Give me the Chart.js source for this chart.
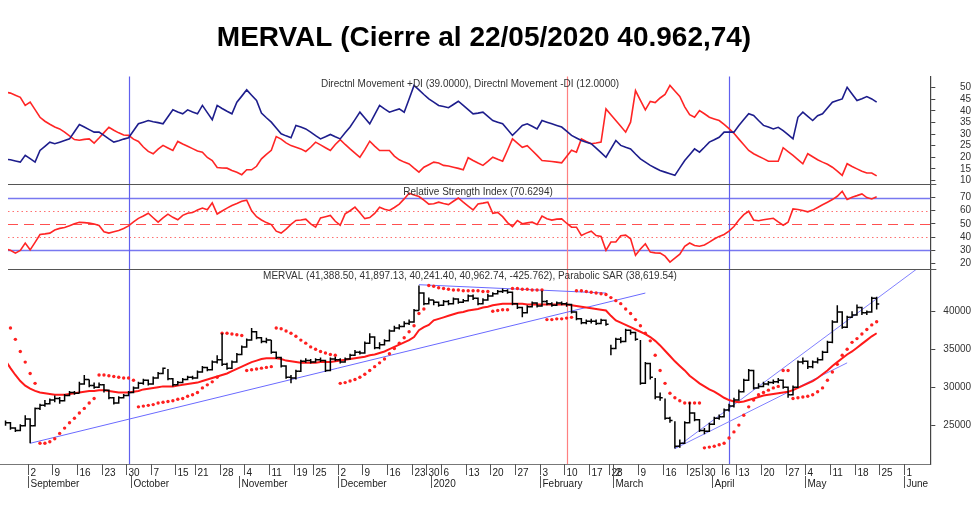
<!DOCTYPE html>
<html><head><meta charset="utf-8">
<script src="https://cdn.jsdelivr.net/npm/chart.js@4.4.1/dist/chart.umd.min.js"></script>
<style>html,body{margin:0;padding:0;background:#fff}#wrap{width:980px;height:505px}</style>
</head><body><div id="wrap"><canvas id="c"></canvas></div>
<script>
const titleText = 'MERVAL (Cierre al 22/05/2020 40.962,74)';
const diLabel = 'Directnl Movement +DI (39.0000), Directnl Movement -DI (12.0000)';
const rsiLabel = 'Relative Strength Index (70.6294)';
const priceLabel = 'MERVAL (41,388.50, 41,897.13, 40,241.40, 40,962.74, -425.762), Parabolic SAR (38,619.54)';
const monthNames = ['2020','February','March','April','May','June','July','August','September','October','November','December'];
const holidays = ['2019-10-14','2019-11-18','2019-12-24','2019-12-25','2019-12-31','2020-01-01','2020-02-21','2020-02-24','2020-02-25','2020-02-26','2020-02-27','2020-03-23','2020-03-24','2020-04-02','2020-04-09','2020-04-10','2020-05-01'];
const firstDay = '2019-08-26', lastDay = '2020-06-05';
const diTicks = [10,15,20,25,30,35,40,45,50];
const rsiTicks = [20,30,40,50,60,70];
const priceTicks = [25000,30000,35000,40000];

const cl = [25300,24600,24300,24900,25800,24900,27200,27600,27800,28300,28500,28200,28900,29300,29200,30400,31000,30200,30000,30300,29600,28600,27900,28600,28900,
29300,29900,30500,30900,30400,31200,31800,32500,31100,30300,30600,31000,31300,31200,32000,32600,32300,33300,33600,
33000,32500,33300,34300,35300,36200,37300,36500,36000,36200,34600,33900,32800,31300,31200,32100,33400,33500,33300,33600,33500,32200,33700,33600,
33300,33700,34200,34600,34500,35800,36600,35200,35600,36100,37400,37800,38000,38400,38600,40100,42400,41000,
41500,41200,40800,41300,41000,41600,41200,41400,42000,41700,41000,41500,42000,42300,42600,42700,42500,41000,40500,39800,40600,41100,40700,
41300,41000,40800,41100,41000,40900,39900,39000,38500,38700,38700,38400,38800,38300,35100,
36300,36000,37500,37200,36300,30500,33100,31300,28700,28600,25900,25600,22200,22600,25300,26600,25700,24300,
24200,25100,25900,26100,27000,27500,28300,29400,30900,32200,29900,30100,30400,30600,30700,30900,30000,
29000,30000,33300,33400,32700,33300,33600,34600,35900,38600,39900,37900,39200,39500,40500,39800,39900,41700,40962.74];
const hi = [25600,25400,24700,25100,26300,25900,27300,27800,28300,28500,28900,28700,29100,29500,29500,30700,31600,31000,30600,30600,30400,29700,28700,28800,29100,
29500,30100,30700,31100,31000,31400,32000,32600,32400,31200,30800,31200,31500,31500,32200,32800,32700,33500,34200,
37100,33200,33500,34500,35500,36400,37800,37400,36600,36500,36200,34700,34000,32900,31600,32300,33600,33800,33700,33800,33900,33600,33900,34000,
33800,33900,34400,34900,34800,36000,37100,36700,35900,36300,37600,38100,38300,38700,38900,40300,43400,42500,
41800,41500,41300,41500,41500,41800,41700,41600,42200,42200,41800,41700,42300,42500,42800,43000,42900,42600,41100,40600,40800,41300,41200,
42700,41500,41200,41300,41300,41200,41000,40000,39100,38900,39000,38900,39000,38900,35600,
36500,36600,37700,37600,37300,36200,33300,33200,31200,29300,28500,26100,25500,23100,25500,28000,26700,25800,
24600,25300,26100,26400,27200,27800,28600,29700,31100,32400,32300,30500,30700,30800,31000,31200,31000,
30100,30200,33500,33900,33500,33500,33900,34800,36100,38800,40800,40000,39400,40000,40900,40600,40100,41900,41897];
const lo = [24900,24400,24100,24200,24800,22600,24800,27000,27400,27700,28000,27800,28100,28800,29000,29200,30300,30000,29800,29900,29300,28400,27700,27800,28500,
28800,29200,29800,30300,30200,30300,31100,31700,30900,30100,30200,30500,30900,31000,31100,31900,32100,32200,33100,
32800,32300,32400,33200,34200,35200,36100,36300,35800,35800,34400,33700,32600,31100,30500,31000,32000,33200,33100,33200,33300,32000,32100,33400,
33100,33200,33600,34100,34300,34400,35700,35000,35000,35500,36000,37300,37600,37900,38200,38500,40100,40800,
40900,40800,40600,40700,40800,40900,41000,41100,41300,41500,40800,40900,41400,41900,42200,42400,42300,40800,40300,39200,39700,40500,40500,
40600,40800,40600,40700,40800,40600,39700,38800,38300,38300,38400,38200,38300,38100,34200,
35000,35800,35900,36900,36100,30300,30400,31000,28400,28200,25700,25300,21900,22000,22500,25200,25500,24100,
23800,24100,25000,25700,26000,26800,27300,28200,29300,30800,29700,29800,30000,30200,30400,30500,29800,
28600,28900,29900,33000,32400,32500,33100,33500,34500,35800,38500,37700,37800,39100,39400,39500,39500,39800,40241];
const sma = [33500,32500,31600,30800,30200,29800,29500,29300,29200,29100,29000,29000,29000,29100,29200,29300,29400,29500,29500,29600,29600,29500,29400,29300,29300,
29300,29400,29500,29700,29800,29900,30000,30100,30100,30100,30200,30300,30400,30500,30600,30800,31000,31200,31400,
31600,31800,32100,32400,32700,33000,33300,33500,33700,33800,33800,33800,33700,33500,33400,33300,33200,33200,33200,33200,33300,33300,33300,33400,
33500,33600,33700,33800,33900,34000,34200,34300,34500,34700,35000,35300,35600,35900,36200,36600,37500,37900,
38200,38800,39000,39200,39400,39600,39800,39900,40100,40200,40300,40500,40600,40800,40900,41000,41000,41000,41000,41000,40900,40900,40900,
40900,40900,40900,40900,40900,40900,40800,40700,40600,40500,40400,40300,40200,40100,39400,
38800,38500,38200,37900,37600,37300,37000,36600,36100,35500,34800,34100,33400,32800,32200,31500,31000,30500,
30100,29700,29400,29000,28600,28300,28100,28000,28100,28300,28500,28700,28900,29000,29100,29200,29300,
29400,29600,29900,30200,30500,30800,31200,31700,32200,32800,33300,33800,34300,34700,35200,35700,36200,36700,37100];
const sar = [39200,37800,36300,34700,33300,31800,30500,22600,22600,22800,23200,23900,24600,25300,25900,26600,27200,27900,28500,31600,31600,31500,31400,31300,31200,
31200,30900,27400,27500,27600,27700,27900,28000,28100,28200,28400,28500,28800,29000,29300,29900,30300,30700,31300,
37100,37100,37000,36900,36800,32200,32300,32400,32500,32600,32700,37800,37700,37400,37100,36700,36200,35800,35300,35000,34700,34500,34300,34200,
30500,30600,30800,31000,31300,31700,32200,32700,33200,33700,34400,35100,35800,36500,37300,38100,39700,40300,
43400,43300,43100,43000,42900,42800,42800,42700,42700,42700,42700,42600,42600,40000,40100,40200,40200,43000,43000,42900,42900,42800,42800,
42800,38900,38900,39000,39000,39100,39200,42700,42700,42600,42500,42400,42300,42200,41800,
41400,41000,40300,39700,38900,38100,37100,36100,34200,32200,30500,29200,28600,28200,27900,27900,27900,27900,
22000,22100,22200,22400,22600,23300,24100,25000,26300,27400,28300,29000,29300,29600,29900,30100,32200,
32200,28500,28600,28700,28800,29000,29400,29900,30900,32000,33000,34200,35000,35900,36400,37000,37600,38200,38619.54];
const diPlus = [19.2,18.9,18.4,17.9,20.8,19.4,17.9,22.9,24.7,26.5,25.8,26.5,27.2,27.9,31,34.1,33,31.9,30.8,30.8,29.4,
27.9,26.5,27.1,27.8,28.4,31.4,34.4,35.1,35.8,35.3,34.9,34.4,37.4,40.4,39.5,38.7,40.4,39.5,38.7,42.3,
39.2,36.1,42.3,41,39.8,38.7,43.7,46.3,49,46.7,44.4,39,37,35.1,32.6,30.1,29.2,28.4,33.7,33,
32.2,30.8,29.3,27.9,28.8,29.8,28.8,27.9,30.5,33,36.2,39.4,36.9,34.4,38.3,42.3,40.8,39.4,40.1,40.8,
39.4,45.1,50.9,49,47,45.1,43.7,42.3,41.8,41.3,42.7,44.1,42.3,40.5,38.7,39,39.4,37.6,35.8,35.1,
34.4,31.9,29.4,31.5,33.7,34.4,33.3,32.2,35.8,35.1,34.4,33.7,33,31.2,29.4,28.3,27.2,26.5,25.8,23.9,
22,20,23.6,27.2,25.1,24.3,23.6,21.4,19.3,17.9,16.5,15.4,14.3,13.6,12.9,12.2,15.4,18.6,21.1,23.6,
22.2,24.3,26.5,27.5,28.6,30.8,30.8,30.8,33.7,36.2,38.7,38,35.8,33.7,33,32.2,32.9,31.5,29.7,27.9,
37.2,39.4,37.6,35.8,37.9,38.7,41.2,43.7,44.4,45.1,50.1,47.2,44.4,45.2,46.1,45.1,43.7];
const diMinus = [48,47.6,46.7,45.8,42.3,43.7,40.5,37.2,35.5,34.2,33,32.2,30.8,29.2,27.6,27.3,27.7,27.9,26.1,28.3,30.6,
32.9,31.6,30.5,29.6,29.4,27.8,26.8,24.4,22.5,21.5,23.5,25.1,24,22.9,26.8,25.7,24.7,23.7,22.7,22.2,
19.9,18.6,15.6,15.4,15.3,14.3,13.5,12.5,14.6,14.6,16.1,19.3,21.2,23,28.9,27.8,26.2,25,24.3,23.6,
22.5,24.3,26.5,25.3,24.1,22.9,25.5,27.6,25.5,23.6,21.8,20,23.3,26.9,24.8,22.9,22.9,22.9,20.5,18.9,
17.9,17.1,15.3,13.6,15.7,16.8,17.9,17.5,16.5,16.2,15.7,15.2,14.6,19.8,18.6,17.5,16.5,18.2,20,19.1,
18.3,23,27.9,26.1,24.3,25,22.9,20.8,18.6,18.4,18.2,17.9,17.6,20.3,23,22.2,27.9,26.8,25.8,26.1,
26.5,40.8,38.3,35.8,33.3,30.8,35.1,48.7,44.5,40.4,44,43.5,45.5,47,50.9,48.5,46.2,41.7,38.3,37.2,
40.1,38.7,37.2,36.5,35.8,34.1,32.3,30.3,27.8,25.4,22.9,21.5,20.4,19.4,18.3,18.3,18.3,24.1,22.4,20.8,
19,17.2,21.5,20.2,18.9,17.9,17,15.7,14,12.2,17.2,16,15,14,13.2,13.2,12];
const rsi = [31,29.9,27.8,29.9,35.4,30.3,36,41.9,42.4,43,45.4,46.6,47.3,48.6,50.2,51.2,51,50.6,50,48.8,44,
43,44,45,46.5,48.5,51.5,54.2,56,58.1,54.7,51.3,54.5,57.4,55,53.1,56.5,58.1,58.6,60.5,62,
60.7,66,57.5,59.8,62,64,65.5,67.2,68,60,55.5,53,51,49.5,44.5,43,46,49.6,52.6,53,
53.6,50,47.5,54.6,55.5,56.4,52,49,57.6,60,62.7,58.5,54,54.8,58,62.7,61.2,60.2,62.5,65,
69,73.3,72,70.8,68,65,65.3,66.5,65.5,64.7,67.2,69.7,66.5,63.5,60.6,65.2,65.8,66.5,58.1,58.7,
55.5,51,48,52.6,50.1,50.8,51.3,49.5,56,54,52.9,53.6,53.8,50.5,47.5,47.5,41.2,43,44.5,41.2,
40.5,29.9,36.2,36.2,41,41.5,38.7,26.1,31,34.9,28.6,28,27.8,25.5,21,24,27,33,35.5,33.6,
33,34,36.2,38.5,40.5,42,44.5,48,53,57,59.6,53,52.4,53.1,53.7,54.3,51.5,49,51.3,61.4,
61,60.2,59.2,60.5,62.5,64.5,66.5,68.5,71,74.8,68.5,70.3,71.5,72.8,70,69,70.6];
// trend lines: [startIndex, startValue, endIndex, endValue]
const trendA = [5,22600,130,42400];
const trendB = [84,43500,122,42400];
const trendC = [136,21900,185,45500];
const trendD = [136,21900,171,33200];
const blueMarks = [25,147], redMarks = [114];
const rsiBlue = [70,30], rsiDotted = [60,40], rsiDashed = [50];

const dates = [];
(function(){
  const d = new Date(firstDay+'T12:00:00'), end = new Date(lastDay+'T12:00:00');
  while (d <= end) {
    const wd = d.getDay();
    const key = d.getFullYear()+'-'+String(d.getMonth()+1).padStart(2,'0')+'-'+String(d.getDate()).padStart(2,'0');
    if (wd!==0 && wd!==6 && !holidays.includes(key)) dates.push(new Date(d));
    d.setDate(d.getDate()+1);
  }
})();

const pts = arr => arr.map((v,i)=>({x:i,y:v}));
const seg = t => [{x:t[0],y:t[1]},{x:t[2],y:t[3]}];
const FONT = "'Liberation Sans', Arial, sans-serif";

const drawPlugin = {
  id:'draw',
  beforeDatasetsDraw(chart){
    const {ctx, chartArea:ca, scales} = chart;
    const xs = scales.x, yR = scales.yRSI;
    ctx.save();
    ctx.lineWidth = 1.3;
    rsiBlue.forEach(v=>{const y=Math.round(yR.getPixelForValue(v))+0.5;ctx.strokeStyle='#7878f0';ctx.setLineDash([]);ctx.beginPath();ctx.moveTo(ca.left,y);ctx.lineTo(ca.right,y);ctx.stroke();});
    ctx.lineWidth = 1;
    rsiDotted.forEach(v=>{const y=Math.round(yR.getPixelForValue(v))+0.5;ctx.strokeStyle='#ff7070';ctx.setLineDash([1.5,3]);ctx.beginPath();ctx.moveTo(ca.left,y);ctx.lineTo(ca.right,y);ctx.stroke();});
    rsiDashed.forEach(v=>{const y=Math.round(yR.getPixelForValue(v))+0.5;ctx.strokeStyle='#ff5050';ctx.setLineDash([10,6]);ctx.beginPath();ctx.moveTo(ca.left,y);ctx.lineTo(ca.right,y);ctx.stroke();});
    ctx.setLineDash([]);
    ctx.lineWidth = 1.2;
    blueMarks.forEach(i=>{const x=Math.round(xs.getPixelForValue(i))+0.5;ctx.strokeStyle='#6060ee';ctx.beginPath();ctx.moveTo(x,ca.top);ctx.lineTo(x,ca.bottom);ctx.stroke();});
    redMarks.forEach(i=>{const x=Math.round(xs.getPixelForValue(i))+0.5;ctx.strokeStyle='#ff8080';ctx.beginPath();ctx.moveTo(x,ca.top);ctx.lineTo(x,ca.bottom);ctx.stroke();});
    ctx.restore();
  },
  afterDatasetsDraw(chart){
    const {ctx, chartArea:ca, scales} = chart;
    const xs = scales.x, yP = scales.yP, yR = scales.yRSI, yD = scales.yDI;
    ctx.save();
    ctx.strokeStyle = '#000'; ctx.lineWidth = 1.5;
    for (let i=0;i<cl.length;i++){
      const x = xs.getPixelForValue(i);
      ctx.beginPath();
      ctx.moveTo(x, yP.getPixelForValue(hi[i])); ctx.lineTo(x, yP.getPixelForValue(lo[i]));
      const yc = yP.getPixelForValue(cl[i]);
      ctx.moveTo(x, yc); ctx.lineTo(x+2.6, yc);
      if (i>0 && cl[i-1]<=hi[i] && cl[i-1]>=lo[i]) { const yo = yP.getPixelForValue(cl[i-1]); ctx.moveTo(x-2.6, yo); ctx.lineTo(x, yo); }
      ctx.stroke();
    }
    ctx.strokeStyle = '#555'; ctx.lineWidth = 1.2;
    [yR.top, yP.top].forEach(y=>{ctx.beginPath();ctx.moveTo(ca.left,Math.round(y)+0.5);ctx.lineTo(ca.right+6,Math.round(y)+0.5);ctx.stroke();});
    ctx.strokeStyle = '#777';
    ctx.beginPath(); ctx.moveTo(0, Math.round(ca.bottom)+0.5); ctx.lineTo(ca.right, Math.round(ca.bottom)+0.5); ctx.stroke();
    ctx.fillStyle = '#333'; ctx.font = '10px '+FONT; ctx.textAlign='center'; ctx.textBaseline='middle';
    ctx.fillText(diLabel, 470, yD.top+8);
    ctx.fillText(rsiLabel, 478, yR.top+8);
    ctx.fillText(priceLabel, 470, yP.top+7);
    ctx.textAlign='left'; ctx.fillStyle='#222'; ctx.strokeStyle='#555'; ctx.lineWidth=1;
    const by = Math.round(ca.bottom);
    for (let i=0;i<dates.length;i++){
      const d = dates[i], p = dates[i-1];
      const x = Math.round(xs.getPixelForValue(i)-2.4)+0.5;
      if (x > ca.right) break;
      const newWeek = !p || d.getDay() <= p.getDay() || (d-p) > 4*864e5;
      const newMonth = !p || d.getMonth()!==p.getMonth();
      if (newWeek && p) { ctx.beginPath(); ctx.moveTo(x,by); ctx.lineTo(x,by+11); ctx.stroke(); ctx.fillText(String(d.getDate()), x+2, by+9); }
      if (newMonth && p) { ctx.beginPath(); ctx.moveTo(x,by+12); ctx.lineTo(x,by+24); ctx.stroke(); ctx.fillText(monthNames[d.getMonth()], x+2, by+20); }
    }
    ctx.restore();
  }
};

const yCommon = (min,max,weight,tickList) => ({
  type:'linear', position:'right', stack:'panels', stackWeight:weight, min, max, offset:false,
  afterBuildTicks: s => { s.ticks = tickList.map(v=>({value:v})); },
  grid:{drawOnChartArea:false, tickLength:5, color:'#444'},
  border:{color:'#444', width:1.2},
  ticks:{font:{size:10,family:FONT}, color:'#333', crossAlign:'far', padding:4, autoSkip:false,
         callback:v=>String(v)}
});

new Chart(document.getElementById('c'), {
  type:'line',
  data:{datasets:[
    {data:pts(diPlus), yAxisID:'yDI', borderColor:'#1d1d8c', borderWidth:1.6, pointRadius:0},
    {data:pts(diMinus), yAxisID:'yDI', borderColor:'#ff2525', borderWidth:1.6, pointRadius:0},
    {data:pts(rsi), yAxisID:'yRSI', borderColor:'#ff2525', borderWidth:1.6, pointRadius:0},
    {data:pts(sma), yAxisID:'yP', borderColor:'#ff1a1a', borderWidth:2, pointRadius:0},
    {data:pts(sar), yAxisID:'yP', showLine:false, pointRadius:1.7, pointBackgroundColor:'#ff2020', pointBorderWidth:0},
    {data:seg(trendA), yAxisID:'yP', borderColor:'#6a6aff', borderWidth:1, pointRadius:0},
    {data:seg(trendB), yAxisID:'yP', borderColor:'#6a6aff', borderWidth:1, pointRadius:0},
    {data:seg(trendC), yAxisID:'yP', borderColor:'#8080ff', borderWidth:1, pointRadius:0},
    {data:seg(trendD), yAxisID:'yP', borderColor:'#8080ff', borderWidth:1, pointRadius:0}
  ]},
  options:{
    responsive:true, maintainAspectRatio:false, animation:false, parsing:false,
    layout:{padding:{left:8, right:20, top:0, bottom:41}},
    plugins:{legend:{display:false}, tooltip:{enabled:false},
      title:{display:true, text:titleText, color:'#000', font:{size:28, weight:'bold', family:FONT}, padding:{top:21, bottom:22}}},
    scales:{
      x:{type:'linear', min:0.5, max:187.9, display:false},
      yDI: yCommon(8.3, 54.7, 108, diTicks),
      yRSI: yCommon(15.5, 80, 85, rsiTicks),
      yP: yCommon(19870, 45530, 195, priceTicks)
    }
  },
  plugins:[drawPlugin]
});
</script></body></html>
